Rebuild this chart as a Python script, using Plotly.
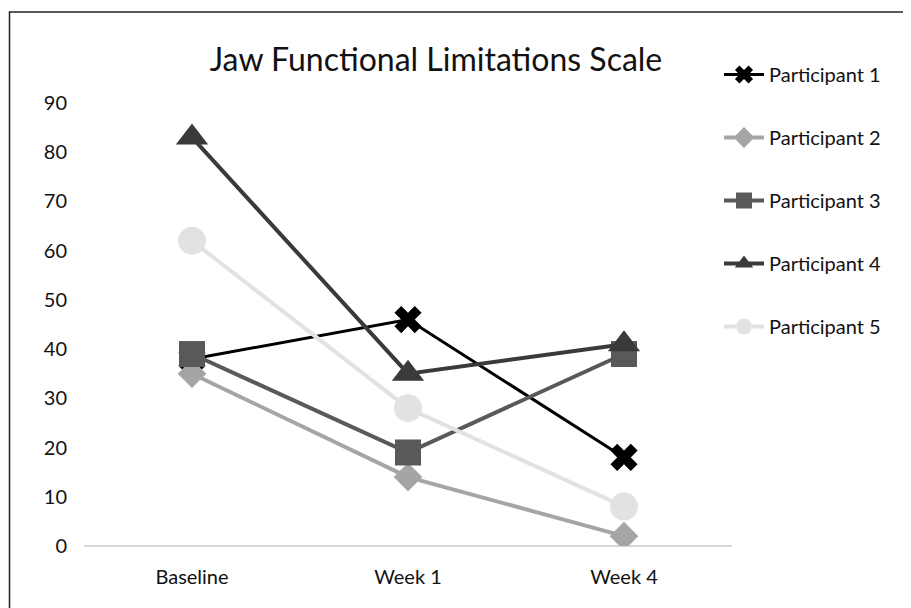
import plotly.graph_objects as go

categories = ["Baseline", "Week 1", "Week 4"]
participants = ["Participant 1", "Participant 2", "Participant 3", "Participant 4", "Participant 5"]
p1 = [38, 46, 18]
p2 = [35, 14, 2]
p3 = [39, 19, 39]
p4 = [83, 35, 41]
p5 = [62, 28, 8]
series = [p1, p2, p3, p4, p5]

colors = ["#000000", "#a5a5a5", "#595959", "#3a3a3a", "#e2e2e2"]
symbols = ["x", "diamond", "square", "triangle-up", "circle"]
sizes = [24, 22, 26, 28, 28]
widths = [3, 4, 4, 4, 4]

font = "Lato, 'Open Sans', sans-serif"

fig = go.Figure()
for i, (name, vals) in enumerate(zip(participants, series)):
    fig.add_trace(go.Scatter(
        x=categories, y=vals, name=name, mode="lines+markers",
        legendgroup=name,
        line=dict(color=colors[i], width=widths[i]),
        marker=dict(symbol=symbols[i], size=sizes[i], color=colors[i],
                    line=dict(width=0)),
    ))

# page is offset by the 8px default body margin
OFF = 8
W, H = 911 - OFF, 608 - OFF
L, R, T, B = 84 - OFF, 179, 103 - OFF, 62
pw, ph = W - L - R, H - T - B

def px_x(x):  # page pixel -> paper
    return (x - OFF - L) / pw

def px_y(y):
    return (H - B - (y - OFF)) / ph

fig.update_layout(
    width=W, height=H,
    margin=dict(l=L, r=R, t=T, b=B),
    paper_bgcolor="white", plot_bgcolor="white",
    font=dict(family=font, size=20, color="#111111"),
    title=dict(text="Jaw Functional Limitations Scale", x=(436 - OFF) / W,
               xanchor="center", y=1 - (60 - OFF) / H, yanchor="middle",
               font=dict(size=32, family=font, color="#111111")),
    showlegend=True,
    legend=dict(x=px_x(719), y=px_y(55), xanchor="left", yanchor="top",
                font=dict(size=20, family=font, color="#111111"),
                tracegroupgap=34, bgcolor="rgba(0,0,0,0)", itemwidth=40),
    xaxis=dict(range=[-0.5, 2.5], showgrid=False, showline=False, zeroline=False,
               ticks="", tickfont=dict(size=20), ticklabelstandoff=17),
    yaxis=dict(range=[0, 90], dtick=10, showgrid=False, showline=False,
               zeroline=True, zerolinecolor="#d9d9d9", zerolinewidth=1.5,
               ticks="", tickfont=dict(size=20), ticklabelstandoff=16),
    shapes=[dict(type="rect", xref="paper", yref="paper",
                 x0=px_x(9.5), x1=px_x(940), y0=px_y(640), y1=px_y(12),
                 line=dict(color="#222222", width=1.5), layer="below")],
)

fig.write_html("out.html")
